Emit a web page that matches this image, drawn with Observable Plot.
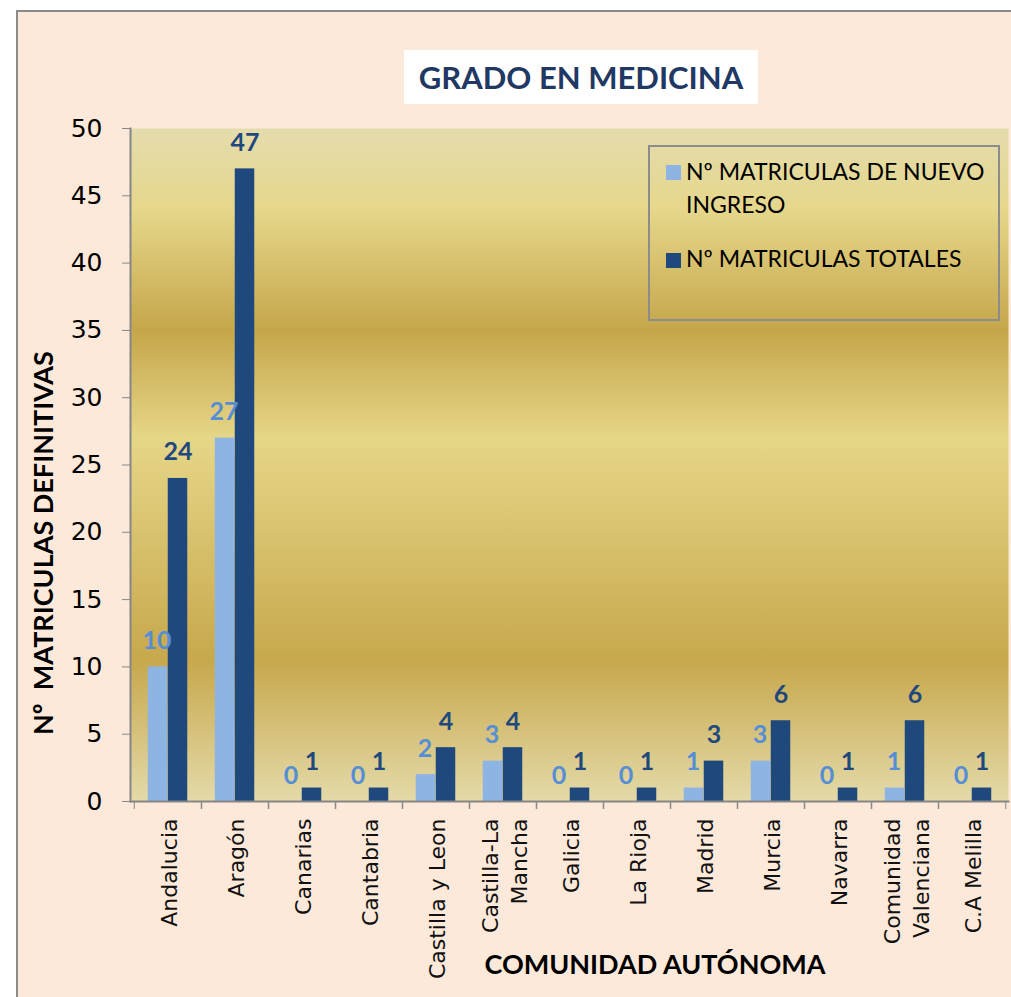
<!DOCTYPE html>
<html>
<head>
<meta charset="utf-8">
<script src="https://cdn.jsdelivr.net/npm/d3@7"></script>
<script src="https://cdn.jsdelivr.net/npm/@observablehq/plot@0.6"></script>
<style>
  html, body { margin: 0; padding: 0; background: #ffffff; }
  #wrap { position: relative; width: 1011px; height: 997px; overflow: hidden; background: #ffffff; }
  #panel { position: absolute; left: 16px; top: 10px; width: 1100px; height: 1100px; background: #fde9da; border-left: 2px solid #8a8a8a; border-top: 2px solid #8a8a8a; }
  #chart { position: absolute; left: 0; top: 0; }
  #title { position: absolute; left: 404px; top: 50px; width: 354px; height: 54px; background: #ffffff; color: #1f3864;
           font: bold 31px Lato, "Open Sans", sans-serif; display: flex; align-items: center; justify-content: center; }
  #ytitle { position: absolute; left: 42px; top: 543px; transform: translate(-50%, -50%) rotate(-90deg); white-space: pre;
            font: bold 27px Lato, "Open Sans", sans-serif; color: #000; }
  #xtitle { position: absolute; left: 655px; top: 963px; transform: translate(-50%, -50%); white-space: nowrap;
            font: bold 27px Lato, "Open Sans", sans-serif; color: #000; }
  #legend { position: absolute; left: 648px; top: 145px; width: 352px; height: 176px; box-sizing: border-box; border: 2px solid #8c8c8c;
            font: 23px Lato, "Open Sans", sans-serif; color: #000; }
  .item { position: absolute; left: 36px; line-height: 33px; }
  .sw { position: absolute; width: 15px; height: 15px; left: 16px; }
</style>
</head>
<body>
<svg width="0" height="0" style="position:absolute">
  <defs>
    <linearGradient id="gold" x1="0" y1="0" x2="0" y2="1">
      <stop offset="0" stop-color="#e4dcad"/>
      <stop offset="0.12" stop-color="#e6d78b"/>
      <stop offset="0.30" stop-color="#c5a64a"/>
      <stop offset="0.46" stop-color="#e6d688"/>
      <stop offset="0.79" stop-color="#c7a84c"/>
      <stop offset="1" stop-color="#e4daa9"/>
    </linearGradient>
  </defs>
</svg>
<div id="wrap">
  <div id="panel"></div>
  <div id="chart"></div>
  <div id="title">GRADO EN MEDICINA</div>
  <div id="ytitle">Nº  MATRICULAS DEFINITIVAS</div>
  <div id="xtitle">COMUNIDAD AUTÓNOMA</div>
  <div id="legend"></div>
</div>
<script>
const categories = ["Andalucia", "Aragón", "Canarias", "Cantabria", "Castilla y Leon", "Castilla-La\nMancha", "Galicia", "La Rioja", "Madrid", "Murcia", "Navarra", "Comunidad\nValenciana", "C.A Melilla"];
const nuevoIngreso = [10, 27, 0, 0, 2, 3, 0, 0, 1, 3, 0, 1, 0];
const totales = [24, 47, 1, 1, 4, 4, 1, 1, 3, 6, 1, 6, 1];
const yTicks = [0, 5, 10, 15, 20, 25, 30, 35, 40, 45, 50];
const seriesNames = ["Nº MATRICULAS DE NUEVO INGRESO", "Nº MATRICULAS TOTALES"];
const seriesColors = ["#8eb4e3", "#1f497d"];
const labelColors = ["#558ed5", "#1f497d"];

const rows = categories.map((c, i) => ({cat: c, nuevo: nuevoIngreso[i], total: totales[i]}));

const grid = "#868686";
const chart = Plot.plot({
  width: 1011,
  height: 997,
  marginTop: 128,
  marginBottom: 196,
  marginLeft: 130,
  marginRight: 3,
  style: {background: "transparent", fontFamily: "'DejaVu Sans', sans-serif", color: "#000"},
  x: {domain: categories, padding: 0, axis: null, label: null},
  y: {domain: [0, 50], axis: null, label: null},
  marks: [
    Plot.frame({fill: "url(#gold)", stroke: null}),
    Plot.barY(rows, {x: "cat", y: "nuevo", fill: seriesColors[0], insetLeft: 13.75, insetRight: 33.75}),
    Plot.barY(rows, {x: "cat", y: "total", fill: seriesColors[1], insetLeft: 33.75, insetRight: 13.75}),
    Plot.text(rows, {x: "cat", y: "nuevo", text: d => String(d.nuevo), dx: -11, dy: -18, lineAnchor: "bottom",
      fill: labelColors[0], fontSize: 25, fontWeight: "bold", fontFamily: "Lato, 'Open Sans', sans-serif"}),
    Plot.text(rows, {x: "cat", y: "total", text: d => String(d.total), dx: 10, dy: -18, lineAnchor: "bottom",
      fill: labelColors[1], fontSize: 25, fontWeight: "bold", fontFamily: "Lato, 'Open Sans', sans-serif"}),
    Plot.frame({anchor: "left", stroke: grid, strokeWidth: 2}),
    Plot.frame({anchor: "bottom", stroke: grid, strokeWidth: 2}),
    Plot.axisY({ticks: yTicks, tickSize: 8, tickPadding: 20, fontSize: 25, stroke: grid, fill: "#000", label: null, tickFormat: d => String(d)}),
    Plot.axisX({tickSize: 8, text: null, dx: -33.75, stroke: grid, label: null}),
    Plot.axisX({tickSize: 8, text: null, dx: 33.75, stroke: grid, label: null}),
    Plot.text(rows, {x: "cat", text: "cat", frameAnchor: "bottom", dy: 17, rotate: -90, textAnchor: "end",
      lineAnchor: "middle", lineHeight: 1.33, fontSize: 22, fill: "#111"})
  ]
});
document.getElementById("chart").appendChild(chart);

const legend = document.getElementById("legend");
const items = [
  {text: "Nº MATRICULAS DE NUEVO<br>INGRESO", top: 8, sw: 18},
  {text: "Nº MATRICULAS TOTALES", top: 95, sw: 106}
];
items.forEach((it, i) => {
  const s = document.createElement("div");
  s.className = "sw";
  s.style.top = it.sw + "px";
  s.style.background = seriesColors[i];
  legend.appendChild(s);
  const t = document.createElement("div");
  t.className = "item";
  t.style.top = it.top + "px";
  t.innerHTML = it.text;
  legend.appendChild(t);
});
</script>
</body>
</html>
